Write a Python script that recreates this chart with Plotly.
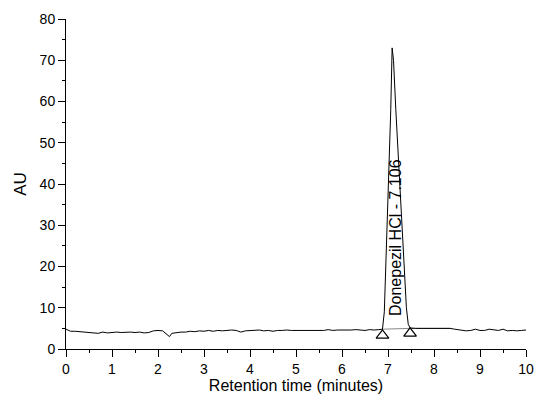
import plotly.graph_objects as go

time_min = [
    0.0, 0.1, 0.2, 0.3, 0.4, 0.5, 0.6, 0.7, 0.8, 0.9,
    1.0, 1.1, 1.2, 1.3, 1.4, 1.5, 1.6, 1.7, 1.8, 1.9,
    2.0, 2.1, 2.2, 2.25, 2.3, 2.4, 2.5, 2.6, 2.7, 2.8, 2.9,
    3.0, 3.1, 3.2, 3.3, 3.4, 3.5, 3.6, 3.7, 3.8, 3.9,
    4.0, 4.1, 4.2, 4.3, 4.4, 4.5, 4.6, 4.7, 4.8, 4.9,
    5.0, 5.1, 5.2, 5.3, 5.4, 5.5, 5.6, 5.7, 5.8, 5.9,
    6.0, 6.1, 6.2, 6.3, 6.4, 6.5, 6.6, 6.7, 6.8,
    6.88, 6.92, 6.97, 7.02, 7.06, 7.09, 7.12, 7.17, 7.23, 7.29, 7.35, 7.40, 7.44, 7.48,
    7.6, 8.0, 8.35, 8.45, 8.6, 8.7, 8.8, 8.9, 9.0, 9.1, 9.2, 9.3, 9.4, 9.5, 9.6, 9.7, 9.8, 9.9, 10.0,
]
absorbance = [
    4.8, 4.3, 4.3, 4.2, 4.1, 4.0, 3.9, 3.8, 4.1, 3.9,
    4.0, 4.1, 4.0, 4.1, 4.1, 4.0, 4.1, 3.9, 4.0, 4.4,
    4.5, 4.4, 3.6, 3.0, 3.8, 4.0, 4.1, 4.1, 4.3, 4.2, 4.4,
    4.3, 4.5, 4.3, 4.5, 4.4, 4.5, 4.6, 4.5, 4.1, 4.4,
    4.5, 4.5, 4.6, 4.4, 4.5, 4.3, 4.5, 4.5, 4.6, 4.5,
    4.5, 4.6, 4.5, 4.6, 4.5, 4.6, 4.5, 4.7, 4.5, 4.6,
    4.6, 4.5, 4.6, 4.7, 4.6, 4.5, 4.7, 4.6, 4.7,
    4.8, 9.0, 25.0, 42.0, 58.0, 73.0, 70.0, 58.0, 45.5, 33.0, 20.5, 10.0, 6.0, 5.1,
    5.0, 5.0, 5.0, 4.8, 4.6, 4.4, 4.5, 4.8, 4.5, 4.5, 4.8, 4.6, 4.5, 4.8, 4.4, 4.5, 4.4, 4.5, 4.6,
]

peak_marks_t = [6.88, 7.48]
peak_marks_y = [3.3, 3.8]
baseline_t = [6.88, 7.48, 8.35]
baseline_y = [4.8, 5.0, 5.0]
peak_label = "Donepezil HCl - 7.106"
label_t = 7.16
label_y = 27

x_ticks = list(range(0, 11))
y_ticks = list(range(0, 81, 10))

FONT = "Liberation Sans, Arial"

fig = go.Figure()
fig.add_trace(go.Scatter(x=baseline_t, y=baseline_y, mode="lines",
                         line=dict(color="#888888", width=1), hoverinfo="skip"))
fig.add_trace(go.Scatter(x=time_min, y=absorbance, mode="lines",
                         line=dict(color="black", width=1)))
fig.add_trace(go.Scatter(x=peak_marks_t, y=peak_marks_y, mode="markers",
                         marker=dict(symbol="triangle-up-open", size=11,
                                     color="black", line=dict(width=1.2)),
                         cliponaxis=False))

fig.add_annotation(x=label_t, y=label_y, text=peak_label, textangle=-90,
                   showarrow=False, font=dict(family=FONT, size=16, color="black"))

axis_common = dict(showline=True, linecolor="black", linewidth=1, ticks="outside",
                   ticklen=7, tickwidth=1, tickcolor="black", showgrid=False, zeroline=False,
                   tickfont=dict(family=FONT, size=14, color="black"),
                   mirror=False, automargin=False)

fig.update_layout(
    width=536, height=400,
    margin=dict(l=66, r=10, t=19, b=51),
    paper_bgcolor="white", plot_bgcolor="white",
    showlegend=False,
    xaxis=dict(range=[0, 10], tickvals=x_ticks,
               minor=dict(dtick=0.5, ticks="outside", ticklen=3, tickcolor="black"),
               title=dict(text="Retention time (minutes)", standoff=4,
                          font=dict(family=FONT, size=16, color="black")),
               **axis_common),
    yaxis=dict(range=[0, 80], tickvals=y_ticks,
               minor=dict(dtick=5, ticks="outside", ticklen=3, tickcolor="black"),
               title=dict(text="AU", standoff=8,
                          font=dict(family=FONT, size=17, color="black")),
               **axis_common),
)

fig.write_html("out.html")
